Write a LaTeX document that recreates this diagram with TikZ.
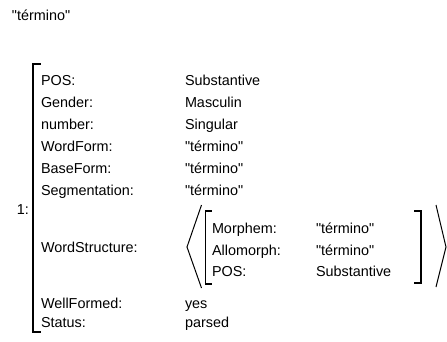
\documentclass[tikz,border=0pt]{standalone}
\usepackage{fontspec}
\setmainfont{Liberation Sans}[Ligatures=TeXOff]
\begin{document}
\begin{tikzpicture}
  [x=1pt,y=-1pt,
  key/.style={anchor=base west,inner sep=0,outer sep=0,
                  font=\fontsize{14.4}{17}\selectfont},
  val/.style={anchor=base west,inner sep=0,outer sep=0,
                  font=\fontsize{14.4}{17}\selectfont},
  bracket/.style={draw=black,line width=1.3pt,line cap=rect},
  anglebr/.style={draw=black,line width=1pt}
                  ]
  \useasboundingbox (0,0) rectangle (447,341);

  \node[key] (title) at (12,20) {"término"};
  \node[key,anchor=base east] (num) at (29,214) {1:};
  % outer feature structure
  \node[key] (kpos) at (41,85) {POS:};
  \node[val] (vpos) at (185,85) {Substantive};
  \node[key] (kgen) at (41,107) {Gender:};
  \node[val] (vgen) at (185,107) {Masculin};
  \node[key] (knum) at (41,129) {number:};
  \node[val] (vnum) at (185,129) {Singular};
  \node[key] (kwf) at (41,151) {WordForm:};
  \node[val] (vwf) at (185,151) {"término"};
  \node[key] (kbf) at (41,173) {BaseForm:};
  \node[val] (vbf) at (185,173) {"término"};
  \node[key] (kseg) at (41,195) {Segmentation:};
  \node[val] (vseg) at (185,195) {"término"};
  \node[key] (kws) at (41,252) {WordStructure:};
  \node[key] (kwell) at (41,308.5) {WellFormed:};
  \node[val] (vwell) at (185,308.5) {yes};
  \node[key] (kstat) at (41,327) {Status:};
  \node[val] (vstat) at (185,327) {parsed};
  % inner feature structure
  \node[key] (kmor) at (212,233.5) {Morphem:};
  \node[val] (vmor) at (316,233.5) {"término"};
  \node[key] (kall) at (212,255) {Allomorph:};
  \node[val] (vall) at (316,255) {"término"};
  \node[key] (kipos) at (212,276) {POS:};
  \node[val] (vipos) at (316,276) {Substantive};

  \coordinate (ot) at (33,64);
  \coordinate (ob) at (33,332);
  \coordinate (it) at (205.5,211);
  \coordinate (ib) at (205.5,284);
  \coordinate (jt) at (421,211);
  \coordinate (jb) at (421,283);
  \coordinate (lat) at (201.5,205);
  \coordinate (lam) at (187,247);
  \coordinate (lab) at (201.5,288);
  \coordinate (rat) at (436,205);
  \coordinate (ram) at (446,247);
  \coordinate (rab) at (436,287);

  \draw[bracket] ([xshift=7pt]ot) -- (ot) -- (ob) -- ([xshift=7pt]ob);
  \draw[bracket] ([xshift=6pt]it) -- (it) -- (ib) -- ([xshift=6pt]ib);
  \draw[bracket] ([xshift=-6pt]jt) -- (jt) -- (jb) -- ([xshift=-6pt]jb);
  \draw[anglebr] (lat) -- (lam) -- (lab);
  \draw[anglebr] (rat) -- (ram) -- (rab);
\end{tikzpicture}
\end{document}
